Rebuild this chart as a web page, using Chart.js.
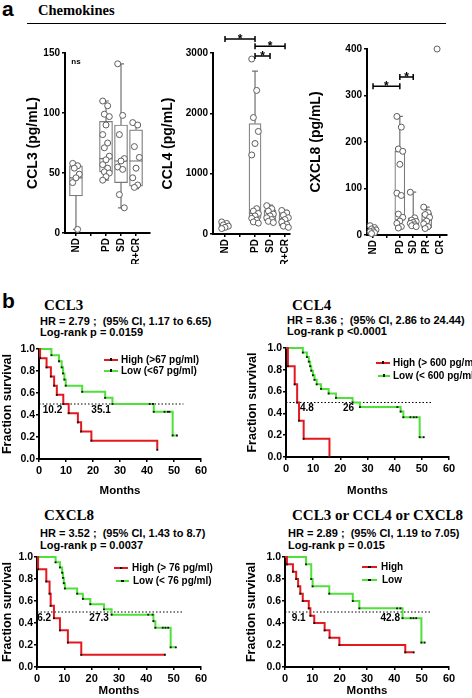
<!DOCTYPE html>
<html>
<head>
<meta charset="utf-8">
<title>Chemokines</title>
<script src="https://cdn.jsdelivr.net/npm/chart.js@4.4.1/dist/chart.umd.min.js"></script>
<style>
  body { margin: 0; background: #fff; }
  #fig { position: relative; width: 472px; height: 698px; overflow: hidden; font-family: "Liberation Sans", Arial, sans-serif; color: #000; }
  #fig canvas, #fig .t, #fig .bar { position: absolute; }
  .t { white-space: pre; font-weight: bold; line-height: 1; }
  .lbl { font-size: 21px; }
  .ttl { font-family: "Liberation Serif", "Times New Roman", serif; font-size: 15px; }
  .hr { font-size: 11px; }
  .leg { font-size: 10px; }
</style>
</head>
<body>
<div id="fig">
  <div class="t lbl" style="left:2px; top:-2px;">a</div>
  <div class="t ttl" style="left:38px; top:3px; font-size:14.5px;">Chemokines</div>
  <div class="bar" style="left:27px; top:22.5px; width:419px; height:1.5px; background:#000;"></div>

  <canvas id="ccl3Box" width="140" height="234" style="left:20px; top:30px;"></canvas>
  <canvas id="ccl4Box" width="140" height="239" style="left:160px; top:25px;"></canvas>
  <canvas id="cxcl8Box" width="150" height="234" style="left:305px; top:30px;"></canvas>

  <div class="t lbl" style="left:2px; top:290px;">b</div>
  <div class="t ttl" style="left:44px; top:297.5px;">CCL3</div>
  <div class="t hr" style="left:40px; top:316px;">HR = 2.79 ;  (95% CI, 1.17 to 6.65)</div>
  <div class="t hr" style="left:40px; top:327px;">Log-rank p = 0.0159</div>

  <div class="t ttl" style="left:292px; top:297.5px;">CCL4</div>
  <div class="t hr" style="left:287px; top:314.5px;">HR = 8.36 ;  (95% CI, 2.86 to 24.44)</div>
  <div class="t hr" style="left:287px; top:326px;">Log-rank p &lt;0.0001</div>

  <div class="t ttl" style="left:44px; top:508px;">CXCL8</div>
  <div class="t hr" style="left:40px; top:528px;">HR = 3.52 ;  (95% CI, 1.43 to 8.7)</div>
  <div class="t hr" style="left:40px; top:539.5px;">Log-rank p = 0.0037</div>

  <div class="t ttl" style="left:292px; top:508px;">CCL3 or CCL4 or CXCL8</div>
  <div class="t hr" style="left:288px; top:528px;">HR = 2.89 ;  (95% CI, 1.19 to 7.05)</div>
  <div class="t hr" style="left:288px; top:539.5px;">Log-rank p = 0.015</div>

  <canvas id="ccl3Km" width="215" height="158" style="left:0px; top:340px;"></canvas>
  <canvas id="ccl4Km" width="218" height="158" style="left:245px; top:340px;"></canvas>
  <canvas id="cxcl8Km" width="215" height="150" style="left:0px; top:548px;"></canvas>
  <canvas id="anyKm" width="219" height="150" style="left:244px; top:548px;"></canvas>
</div>

<script>
Chart.defaults.font.family = '"Liberation Sans", Arial, sans-serif';
Chart.defaults.font.weight = 'bold';
Chart.defaults.color = '#000';
Chart.defaults.animation = false;
Chart.defaults.plugins.legend.display = false;
Chart.defaults.plugins.tooltip.enabled = false;

// ---- panel a : box plots (min, q1, median, q3, max) ----
const ccl3Groups = ['ND', '', 'PD', 'SD', 'PR+CR'];
const ccl3Ticks = [0, 50, 100, 150];
const ccl3Boxes = [[3, 31, 46, 56, 58], null, [44, 51, 62, 93, 110], [21, 42, 60, 90, 141], [37, 39, 60, 86, 92]];
const ccl3Points = [
    [58, 56, 54, 49, 46, 42, 3],
    [],
    [110, 106, 99, 97, 90, 82, 75, 71, 64, 61, 57, 54, 51, 50, 47, 44],
    [141, 98, 82, 62, 60, 55, 53, 32, 21],
    [92, 90, 72, 63, 54, 46, 40, 38]
];

const ccl4Groups = ['ND', '', 'PD', 'SD', 'PR+CR'];
const ccl4Ticks = [0, 1000, 2000, 3000];
const ccl4Boxes = [[80, 95, 130, 170, 200], null, [180, 260, 340, 1830, 2700], [190, 220, 300, 400, 480], [110, 140, 250, 370, 390]];
const ccl4Points = [
    [200, 175, 150, 130, 110, 90],
    [],
    [2900, 2380, 1930, 1700, 1500, 1310, 420, 380, 340, 300, 260, 230, 200, 180],
    [470, 420, 380, 330, 300, 270, 240, 210, 190],
    [390, 350, 310, 270, 240, 200, 160, 130, 110]
];
const ccl4Stars = [[0, 2, 3230], [2, 4, 3110], [2, 3, 2950]];

const cxcl8Groups = ['ND', '', 'PD', 'SD', 'PR', 'CR'];
const cxcl8Ticks = [0, 100, 200, 300, 400];
const cxcl8Boxes = [[3, 6, 10, 14, 20], null, [15, 32, 86, 180, 255], [18, 22, 28, 37, 92], [12, 16, 32, 47, 60], null];
const cxcl8Points = [
    [20, 16, 13, 11, 9, 7, 5, 3],
    [],
    [255, 232, 185, 180, 152, 90, 85, 45, 38, 30, 25, 18, 15],
    [92, 37, 32, 29, 27, 25, 22, 20, 18],
    [60, 48, 44, 38, 30, 24, 18, 14],
    [400]
];
const cxcl8Stars = [[0, 2, 320], [2, 3, 340]];

// ---- panel b : Kaplan-Meier steps [month, fraction surviving] ----
const kmMonthTicks = [0, 10, 20, 30, 40, 50, 60];
const kmSurvTicks = [0, 0.2, 0.4, 0.6, 0.8, 1.0];
const kmHalfLine = [[0, 0.5], [53.5, 0.5]];

const ccl3High = [[0, 1], [0.4, 0.917], [2.8, 0.833], [4.4, 0.75], [5.6, 0.667], [6.6, 0.583], [9.0, 0.5], [11.0, 0.417], [14.4, 0.333], [15.6, 0.25], [19.4, 0.167], [43.8, 0.083]];
const ccl3Low = [[0, 1], [4.6, 0.944], [7.4, 0.889], [8.4, 0.833], [8.9, 0.778], [9.4, 0.722], [9.9, 0.667], [16.0, 0.611], [24.5, 0.556], [27.2, 0.5], [41.0, 0.5], [42.2, 0.5], [42.5, 0.429], [46.5, 0.429], [47.7, 0.429], [48.3, 0.429], [49.5, 0.214], [51.1, 0.214]];
const ccl3Names = ['High (>67 pg/ml)', 'Low (<67 pg/ml)'];
const ccl3Medians = [['10.2', 5.0, 0.445], ['35.1', 23.0, 0.445]];

const ccl4High = [[0, 1], [0.7, 0.833], [3.2, 0.667], [4.1, 0.5], [4.8, 0.333], [6.5, 0.167], [16.0, 0]];
const ccl4Low = [[0, 1], [6.2, 0.958], [7.7, 0.917], [8.4, 0.875], [8.9, 0.833], [9.3, 0.792], [9.9, 0.75], [10.5, 0.708], [11.3, 0.667], [12.9, 0.625], [15.7, 0.583], [18.4, 0.542], [24.5, 0.5], [27.2, 0.458], [41.0, 0.458], [42.2, 0.417], [43.2, 0.365], [45.8, 0.365], [47.0, 0.365], [48.0, 0.365], [49.2, 0.182], [50.7, 0.182]];
const ccl4Names = ['High (> 600 pg/ml)', 'Low (< 600 pg/ml)'];
const ccl4Medians = [['4.8', 7.7, 0.445], ['26', 23.0, 0.445]];

const cxcl8High = [[0, 1], [0.4, 0.889], [3.4, 0.778], [4.6, 0.667], [5.0, 0.556], [6.2, 0.444], [8.4, 0.333], [11.3, 0.222], [16.2, 0.111], [46.8, 0.111]];
const cxcl8Low = [[0, 1], [6.8, 0.952], [8.4, 0.905], [9.2, 0.857], [9.5, 0.81], [9.8, 0.762], [10.2, 0.714], [14.7, 0.667], [16.8, 0.619], [19.5, 0.571], [24.5, 0.524], [27.3, 0.476], [40.7, 0.476], [42.3, 0.476], [42.6, 0.417], [43.3, 0.357], [46.0, 0.357], [47.0, 0.357], [48.0, 0.357], [48.9, 0.179], [50.8, 0.179]];
const cxcl8Names = ['High (> 76 pg/ml)', 'Low (< 76 pg/ml)'];
const cxcl8Medians = [['6.2', 2.6, 0.445], ['27.3', 22.7, 0.445]];

const anyHigh = [[0, 1], [0.7, 0.933], [2.9, 0.867], [4.1, 0.8], [4.8, 0.733], [5.6, 0.667], [6.5, 0.6], [8.7, 0.533], [9.3, 0.467], [10.7, 0.4], [14.5, 0.333], [16.3, 0.267], [19.9, 0.2], [44.0, 0.133], [47.1, 0.133]];
const anyLow = [[0, 1], [7.7, 0.933], [9.6, 0.8], [10.1, 0.733], [16.2, 0.667], [24.8, 0.6], [27.2, 0.533], [41.0, 0.533], [42.2, 0.533], [43.0, 0.444], [46.0, 0.444], [47.0, 0.444], [48.0, 0.444], [49.9, 0.222], [51.1, 0.222]];
const anyNames = ['High', 'Low'];
const anyMedians = [['9.1', 5.0, 0.445], ['42.8', 38.5, 0.445]];

const kmColors = ['#e3191f', '#4fe03a'];

// spread the dots of one group a little sideways
function jitter(k) {
    return ((k * 3) % 5 - 2) * 0.11;
}

function axisStyle() {
    return {
        grid: { drawOnChartArea: false, offset: false, color: '#000', lineWidth: 1.5, tickLength: 3 },
        border: { color: '#000', width: 2 }
    };
}

function boxPlot(id, cats, boxes, points, ticks, fr, stars, notes) {
    const boxData = [];
    boxes.forEach((b, i) => { if (b) boxData.push({ x: i, y: [b[1], b[3]] }); });
    const dots = [];
    points.forEach((vals, i) => vals.forEach((v, k) => dots.push({ x: i + jitter(k), y: v })));

    const extras = {
        id: 'boxExtras',
        afterDatasetDraw(chart, args) {
            if (args.meta.type !== 'bar') return;
            const { ctx, scales: { x, y } } = chart;
            const half = fr.box / 2;
            ctx.save();
            ctx.strokeStyle = '#707070';
            ctx.lineWidth = 1.2;
            boxes.forEach((b, i) => {
                if (!b) return;
                const cx = x.getPixelForValue(i);
                const [lo, q1, med, q3, hi] = b.map(v => y.getPixelForValue(v));
                ctx.beginPath();
                ctx.moveTo(cx, q3); ctx.lineTo(cx, hi);
                ctx.moveTo(cx, q1); ctx.lineTo(cx, lo);
                ctx.moveTo(cx - 3, hi); ctx.lineTo(cx + 3, hi);
                ctx.moveTo(cx - 3, lo); ctx.lineTo(cx + 3, lo);
                ctx.moveTo(cx - half, med); ctx.lineTo(cx + half, med);
                ctx.stroke();
            });
            ctx.restore();
        },
        afterDraw(chart) {
            const { ctx, scales: { x, y } } = chart;
            ctx.save();
            ctx.strokeStyle = '#000';
            ctx.fillStyle = '#000';
            ctx.lineWidth = 1.5;
            ctx.textAlign = 'center';
            ctx.font = 'bold 12px "Liberation Sans", Arial, sans-serif';
            stars.forEach(([a, b, v]) => {
                const x1 = x.getPixelForValue(a), x2 = x.getPixelForValue(b), py = y.getPixelForValue(v);
                ctx.beginPath();
                ctx.moveTo(x1, py); ctx.lineTo(x2, py);
                ctx.moveTo(x1, py - 3); ctx.lineTo(x1, py + 3);
                ctx.moveTo(x2, py - 3); ctx.lineTo(x2, py + 3);
                ctx.stroke();
                ctx.fillText('*', (x1 + x2) / 2, py + 4);
            });
            ctx.font = 'bold 8px "Liberation Sans", Arial, sans-serif';
            ctx.textBaseline = 'middle';
            notes.forEach(([txt, g, v]) => ctx.fillText(txt, x.getPixelForValue(g), y.getPixelForValue(v)));
            ctx.restore();
        }
    };

    return new Chart(document.getElementById(id), {
        type: 'scatter',
        data: {
            datasets: [
                { type: 'scatter', data: dots, order: 0, clip: false, pointRadius: 3,
                  pointBackgroundColor: '#fff', pointBorderColor: '#5e5e5e', pointBorderWidth: 1 },
                { type: 'bar', data: boxData, order: 1, barThickness: fr.box, backgroundColor: '#fff',
                  borderColor: '#7a7a7a', borderWidth: 1.2, borderSkipped: false }
            ]
        },
        options: {
            responsive: false,
            layout: { padding: { top: fr.top, right: fr.right, left: 0, bottom: 0 } },
            scales: {
                x: Object.assign(axisStyle(), {
                    type: 'linear', min: fr.xmin, max: fr.xmax, offset: false,
                    afterBuildTicks: s => { s.ticks = cats.map((c, i) => ({ value: i })); },
                    afterFit: s => { s.height = fr.xh; },
                    ticks: { callback: v => cats[v], minRotation: 90, maxRotation: 90, autoSkip: false,
                             font: { size: 10 }, padding: 2 }
                }),
                y: Object.assign(axisStyle(), {
                    min: ticks[0], max: ticks[ticks.length - 1],
                    afterBuildTicks: s => { s.ticks = ticks.map(v => ({ value: v })); },
                    afterFit: s => { s.width = fr.yw; },
                    ticks: { font: { size: 10 }, padding: 2, callback: v => String(v) },
                    title: { display: true, text: fr.title, font: { size: 14 }, padding: { top: fr.tp, bottom: 0 } }
                })
            }
        },
        plugins: [extras]
    });
}

function kmPlot(id, series, names, medians, fr, leg) {
    const sets = series.map((s, i) => ({
        data: s.map(p => ({ x: p[0], y: p[1] })),
        stepped: 'before', borderColor: kmColors[i], borderWidth: 2, fill: false, clip: false,
        pointStyle: 'rect', pointRadius: c => (c.dataIndex === 0 ? 0 : 1.3),
        pointBackgroundColor: '#111', pointBorderWidth: 0
    }));
    sets.push({
        data: kmHalfLine.map(p => ({ x: p[0], y: p[1] })),
        borderColor: '#000', borderWidth: 1, borderDash: [1.5, 2], pointRadius: 0, fill: false, clip: false
    });

    const labels = {
        id: 'medianLabels',
        afterDatasetsDraw(chart) {
            const { ctx, scales: { x, y } } = chart;
            ctx.save();
            ctx.fillStyle = '#000';
            ctx.font = 'bold 10px "Liberation Sans", Arial, sans-serif';
            ctx.textAlign = 'center';
            ctx.textBaseline = 'middle';
            medians.forEach(([t, mx, my]) => ctx.fillText(t, x.getPixelForValue(mx), y.getPixelForValue(my)));
            ctx.restore();
        }
    };

    new Chart(document.getElementById(id), {
        type: 'line',
        data: { datasets: sets },
        options: {
            responsive: false,
            layout: { padding: { top: fr.top, right: fr.right, left: 0, bottom: 0 } },
            scales: {
                x: Object.assign(axisStyle(), {
                    type: 'linear', min: kmMonthTicks[0], max: kmMonthTicks[kmMonthTicks.length - 1],
                    afterBuildTicks: s => { s.ticks = kmMonthTicks.map(v => ({ value: v })); },
                    afterFit: s => { s.height = fr.xh; },
                    ticks: { font: { size: 11 }, padding: 2, maxRotation: 0 },
                    title: { display: true, text: 'Months', font: { size: 11.5 }, padding: { top: 0, bottom: 0 } }
                }),
                y: Object.assign(axisStyle(), {
                    type: 'linear', min: 0, max: 1,
                    afterBuildTicks: s => { s.ticks = kmSurvTicks.map(v => ({ value: v })); },
                    afterFit: s => { s.width = fr.yw; },
                    ticks: { font: { size: 10.5 }, padding: 1, callback: v => v.toFixed(1) },
                    title: { display: true, text: 'Fraction survival', font: { size: 12.5 }, padding: { top: fr.tp, bottom: 0 } }
                })
            }
        },
        plugins: [labels]
    });

    // legend drawn as page text next to a short coloured line
    const fig = document.getElementById('fig');
    names.forEach((n, i) => {
        const [l, r, cy, tx] = leg[i];
        const line = document.createElement('div');
        line.className = 'bar';
        line.style.cssText = `left:${l}px; top:${cy - 1}px; width:${r - l}px; height:2px; background:${kmColors[i]};`;
        const dot = document.createElement('div');
        dot.className = 'bar';
        dot.style.cssText = `left:${(l + r) / 2 - 1.3}px; top:${cy - 1.3}px; width:2.6px; height:2.6px; background:#111;`;
        const txt = document.createElement('div');
        txt.className = 't leg';
        txt.style.cssText = `left:${tx}px; top:${cy - 5}px;`;
        txt.textContent = n;
        fig.append(line, dot, txt);
    });
}

boxPlot('ccl3Box', ccl3Groups, ccl3Boxes, ccl3Points, ccl3Ticks,
    { top: 23, right: 10, yw: 45, xh: 31, xmin: -0.73, xmax: 4.93, box: 13, title: 'CCL3 (pg/mL)', tp: 5 },
    [], [['ns', 0, 143]]);
boxPlot('ccl4Box', ccl4Groups, ccl4Boxes, ccl4Points, ccl4Ticks,
    { top: 28, right: 10, yw: 53, xh: 30, xmin: -0.8, xmax: 4.33, box: 12, title: 'CCL4 (pg/mL)', tp: 0 },
    ccl4Stars, []);
boxPlot('cxcl8Box', cxcl8Groups, cxcl8Boxes, cxcl8Points, cxcl8Ticks,
    { top: 19, right: 8, yw: 62, xh: 29, xmin: -0.45, xmax: 5.52, box: 10, title: 'CXCL8 (pg/mL)', tp: 3 },
    cxcl8Stars, []);

kmPlot('ccl3Km', [ccl3High, ccl3Low], ccl3Names, ccl3Medians,
    { top: 9, right: 14, yw: 39, xh: 39, tp: 0.5 },
    [[104, 118, 359.5, 121], [104, 118, 370.5, 121]]);
kmPlot('ccl4Km', [ccl4High, ccl4Low], ccl4Names, ccl4Medians,
    { top: 8, right: 14, yw: 41, xh: 41, tp: 0.5 },
    [[376, 390, 362.5, 393], [378, 390, 375.5, 393]]);
kmPlot('cxcl8Km', [cxcl8High, cxcl8Low], cxcl8Names, cxcl8Medians,
    { top: 9, right: 14, yw: 37, xh: 31, tp: 0.5 },
    [[114, 128, 568, 132], [116, 129, 581, 133]]);
kmPlot('anyKm', [anyHigh, anyLow], anyNames, anyMedians,
    { top: 9, right: 14, yw: 41, xh: 31, tp: 0.5 },
    [[362, 377, 567, 381], [362, 377, 580, 382]]);
</script>
</body>
</html>
